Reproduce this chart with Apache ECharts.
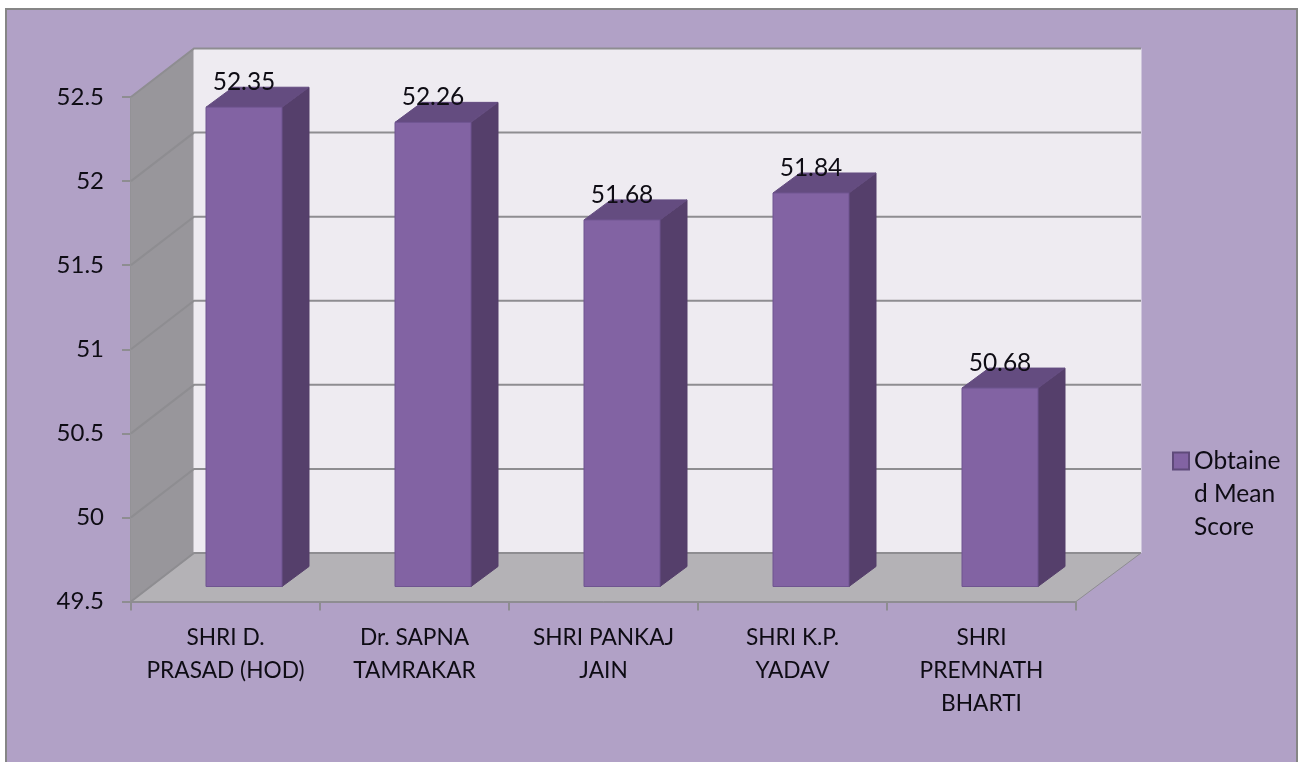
<!DOCTYPE html>
<html>
<head>
<meta charset="utf-8">
<title>Obtained Mean Score</title>
<style>
    html,body{margin:0;padding:0;background:#fff;}
    #main{width:1298px;height:762px;}
</style>
<script src="https://cdn.jsdelivr.net/npm/echarts@6/dist/echarts.min.js"></script>
</head>
<body>
<div id="main"></div>
<script>
var categories = ['SHRI D.\nPRASAD (HOD)', 'Dr. SAPNA\nTAMRAKAR', 'SHRI PANKAJ\nJAIN', 'SHRI K.P.\nYADAV', 'SHRI\nPREMNATH\nBHARTI'];
var scores = [52.35, 52.26, 51.68, 51.84, 50.68];
var yTicks = [49.5, 50, 50.5, 51, 51.5, 52, 52.5];
var seriesName = 'Obtained Mean Score';

var fontName = 'Lato';
var textColor = '#0e0c14';
var lineColor = '#8e8d91';

//3d look: how far the walls and the bars are pushed back from the axes
var wallDx = 63, wallDy = -48.5;
var barDx = 18.5, barDy = -15, barWidth = 76;
var sideDx = 27, sideDy = -20;

function poly(points, fill, stroke){
    return {
        type: 'polygon',
        shape: {points: points},
        style: {fill: fill, stroke: stroke || fill, lineWidth: 1}
    };
}

//side wall, back wall, floor and the grid lines
function renderWalls(params, api){
    var v = api.value(0);
    var p = api.coord([0, v]);
    var cs = params.coordSys;
    var x0 = cs.x, x1 = cs.x + cs.width;
    var y = p[1];
    var children = [];
    if(params.dataIndex === 0){
        var top = cs.y, bot = cs.y + cs.height;
        children.push(poly([[x0, top], [x0 + wallDx, top + wallDy], [x0 + wallDx, bot + wallDy], [x0, bot]], '#98969b'));
        children.push(poly([[x0 + wallDx, top + wallDy], [x1 + wallDx + 2, top + wallDy], [x1 + wallDx + 2, bot + wallDy], [x0 + wallDx, bot + wallDy]], '#eeebf1'));
        children.push(poly([[x0, bot], [x0 + wallDx, bot + wallDy], [x1 + wallDx + 2, bot + wallDy], [x1, bot]], '#b4b2b6', lineColor));
    }
    children.push({
        type: 'polyline',
        shape: {points: [[x0, y], [x0 + wallDx, y + wallDy], [x1 + wallDx + 2, y + wallDy]]},
        style: {fill: null, stroke: lineColor, lineWidth: 2}
    });
    return {type: 'group', children: children};
}

function renderBars(params, api){
    var i = api.value(0);
    var v = api.value(1);
    var top = api.coord([i, v]);
    var bottom = api.coord([i, yTicks[0]]);
    var xl = top[0] + barDx - barWidth / 2, xr = xl + barWidth;
    var yt = top[1] + barDy, yb = bottom[1] + barDy;
    return {
        type: 'group',
        children: [
            poly([[xr, yt], [xr + sideDx, yt + sideDy], [xr + sideDx, yb + sideDy], [xr, yb]], '#553f6b'),
            poly([[xl, yt], [xl + sideDx, yt + sideDy], [xr + sideDx, yt + sideDy], [xr, yt]], '#644c80'),
            poly([[xl, yt], [xr, yt], [xr, yb], [xl, yb]], '#8263a3', '#6f5590'),
            {
                type: 'text',
                style: {
                    x: (xl + xr) / 2,
                    y: yt - 25,
                    text: String(v),
                    align: 'center',
                    verticalAlign: 'middle',
                    fill: textColor,
                    font: '24.5px ' + fontName
                }
            }
        ]
    };
}

var myChart = echarts.init(document.getElementById('main'));
var option = {
    animation: false,
    backgroundColor: '#fff',
    textStyle: {fontFamily: fontName},
    graphic: [{
        type: 'rect',
        shape: {x: 6, y: 9, width: 1291, height: 790},
        style: {fill: '#b1a1c6', stroke: '#868686', lineWidth: 2},
        silent: true,
        z: -1
    }],
    grid: {
        left: 131,
        right: 222,
        top: 97,
        bottom: 160.5
    },
    legend: {
        left: 1172,
        top: 378.5,
        padding: 0,
        orient: 'vertical',
        selectedMode: false,
        itemWidth: 16,
        itemHeight: 17,
        data: [{name: seriesName, icon: 'rect'}],
        //two blank lines keep the marker level with the first line of text
        formatter: function(){
            return '\n\nObtaine\nd Mean\nScore';
        },
        textStyle: {
            color: textColor,
            fontSize: 24.5,
            fontFamily: fontName,
            lineHeight: 33
        }
    },
    xAxis: {
        type: 'category',
        data: categories,
        boundaryGap: true,
        axisLine: {show: true, lineStyle: {color: lineColor, width: 2}},
        axisTick: {show: true, alignWithLabel: false, length: 9, lineStyle: {color: lineColor, width: 2}},
        axisLabel: {
            color: textColor,
            fontSize: 22.7,
            fontFamily: fontName,
            lineHeight: 33,
            margin: 20,
            interval: 0
        },
        splitLine: {show: false}
    },
    yAxis: {
        type: 'value',
        min: 49.5,
        max: 52.5,
        interval: 0.5,
        axisLine: {show: true, lineStyle: {color: lineColor, width: 2}},
        axisTick: {show: true, length: 9, lineStyle: {color: lineColor, width: 2}},
        axisLabel: {
            color: textColor,
            fontSize: 24,
            fontFamily: fontName,
            margin: 27
        },
        splitLine: {show: false}
    },
    series: [
        {
            name: 'walls',
            type: 'custom',
            silent: true,
            z: 1,
            renderItem: renderWalls,
            encode: {y: 0},
            data: yTicks.map(function(v){ return [v]; })
        },
        {
            name: seriesName,
            type: 'custom',
            z: 3,
            itemStyle: {color: '#8263a3', borderColor: '#5f4a7a', borderWidth: 1},
            renderItem: renderBars,
            encode: {x: 0, y: 1},
            data: scores.map(function(v, i){ return [i, v]; })
        }
    ]
};

myChart.setOption(option);
</script>
</body>
</html>
